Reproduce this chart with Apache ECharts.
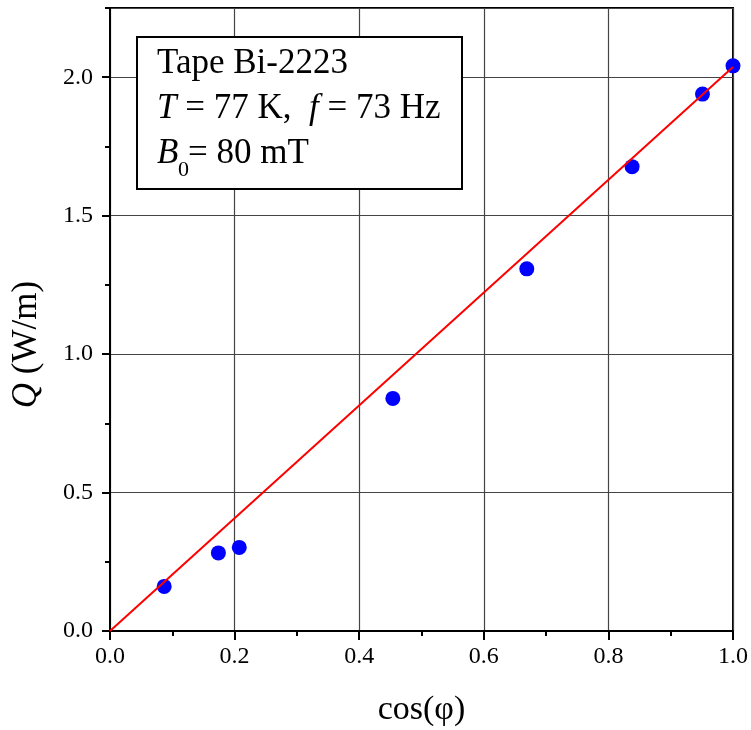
<!DOCTYPE html>
<html>
<head>
<meta charset="utf-8">
<script src="https://cdn.jsdelivr.net/npm/echarts@6/dist/echarts.min.js"></script>
<style>
html,body{margin:0;padding:0;background:#fff;}
#c{width:751px;height:730px;}
</style>
</head>
<body>
<div id="c"></div>
<script>
var cosPhi = [0.087, 0.174, 0.2075, 0.454, 0.669, 0.838, 0.951, 1.0];
var lossQ = [0.161, 0.282, 0.302, 0.840, 1.308, 1.677, 1.939, 2.041];
var fitX = [0, 1.0];
var fitY = [0, 2.037];
var xTicks = [0, 0.2, 0.4, 0.6, 0.8, 1.0];
var yTicks = [0, 0.5, 1.0, 1.5, 2.0];

var FONT = '"Liberation Serif", "Times New Roman", serif';

var chart = echarts.init(document.getElementById('c'), null, {renderer: 'canvas'});

var scatterData = cosPhi.map(function (x, i) { return [x, lossQ[i]]; });
var fitData = fitX.map(function (x, i) { return [x, fitY[i]]; });

var option = {
  animation: false,
  backgroundColor: '#fff',
  grid: {
    left: 110, right: 18, top: 8, bottom: 99,
    outerBoundsMode: 'none', containLabel: false,
    show: true, borderColor: '#000', borderWidth: 2, backgroundColor: 'transparent'
  },
  xAxis: [{
    type: 'value', min: 0, max: 1.0, interval: 0.2,
    name: 'cos(φ)', nameLocation: 'middle', nameGap: 62,
    nameTextStyle: {fontFamily: FONT, fontSize: 34, color: '#000'},
    axisLine: {show: true, onZero: false, lineStyle: {color: '#000', width: 2}},
    axisTick: {show: true, inside: false, length: 9, lineStyle: {color: '#000', width: 2}},
    minorTick: {show: true, splitNumber: 2, length: 5, lineStyle: {color: '#000', width: 2}},
    axisLabel: {
      fontFamily: FONT, fontSize: 24, color: '#000', margin: 14,
      formatter: function (v) { return v.toFixed(1); }
    },
    splitLine: {show: true, lineStyle: {color: '#444', width: 1.2}}
  }],
  yAxis: [{
    type: 'value', min: 0, max: 2.25, interval: 0.5,
    name: '{i|Q} (W/m)', nameLocation: 'middle', nameGap: 66, nameRotate: 90,
    nameTextStyle: {
      fontFamily: FONT, fontSize: 35, color: '#000', padding: [0, 50, 0, 0],
      rich: {i: {fontFamily: FONT, fontSize: 35, fontStyle: 'italic', color: '#000'}}
    },
    axisLine: {show: true, onZero: false, lineStyle: {color: '#000', width: 2}},
    axisTick: {show: true, inside: false, length: 8, lineStyle: {color: '#000', width: 2}},
    axisLabel: {
      fontFamily: FONT, fontSize: 24, color: '#000', margin: 17, showMaxLabel: false,
      formatter: function (v) { return v.toFixed(1); }
    },
    splitLine: {show: true, lineStyle: {color: '#444', width: 1.2}}
  }, {
    type: 'value', min: 0, max: 2.25, interval: 0.25, position: 'left',
    axisLine: {show: false},
    axisTick: {show: true, inside: false, length: 5, lineStyle: {color: '#000', width: 2}},
    axisLabel: {show: false},
    splitLine: {show: false}
  }],
  series: [{
    type: 'line',
    data: fitData,
    symbol: 'none',
    lineStyle: {color: '#ff0000', width: 2},
    z: 3
  }, {
    type: 'scatter',
    data: scatterData,
    symbol: 'circle',
    symbolSize: 15,
    itemStyle: {color: '#0000ff', opacity: 1},
    z: 2
  }],
  graphic: [{
    type: 'rect',
    shape: {x: 137, y: 37, width: 325, height: 152},
    style: {fill: '#fff', stroke: '#000', lineWidth: 2},
    z: 100
  }, {
    type: 'text', x: 157, y: 64, z: 101,
    style: {text: 'Tape Bi-2223', font: '35px ' + FONT, fill: '#000', verticalAlign: 'middle'}
  }, {
    type: 'text', x: 157, y: 109, z: 101,
    style: {
      text: '{i|T} = 77 K,  {i|f} = 73 Hz', font: '35px ' + FONT, fill: '#000', verticalAlign: 'middle',
      rich: {i: {fontFamily: FONT, fontSize: 35, fontStyle: 'italic', fill: '#000'}}
    }
  }, {
    type: 'text', x: 157, y: 154, z: 101,
    style: {text: 'B', font: 'italic 35px ' + FONT, fill: '#000', verticalAlign: 'middle'}
  }, {
    type: 'text', x: 178, y: 170, z: 101,
    style: {text: '0', font: '22px ' + FONT, fill: '#000', verticalAlign: 'middle'}
  }, {
    type: 'text', x: 188, y: 154, z: 101,
    style: {text: '= 80 mT', font: '35px ' + FONT, fill: '#000', verticalAlign: 'middle'}
  }]
};
chart.setOption(option);
</script>
</body>
</html>
